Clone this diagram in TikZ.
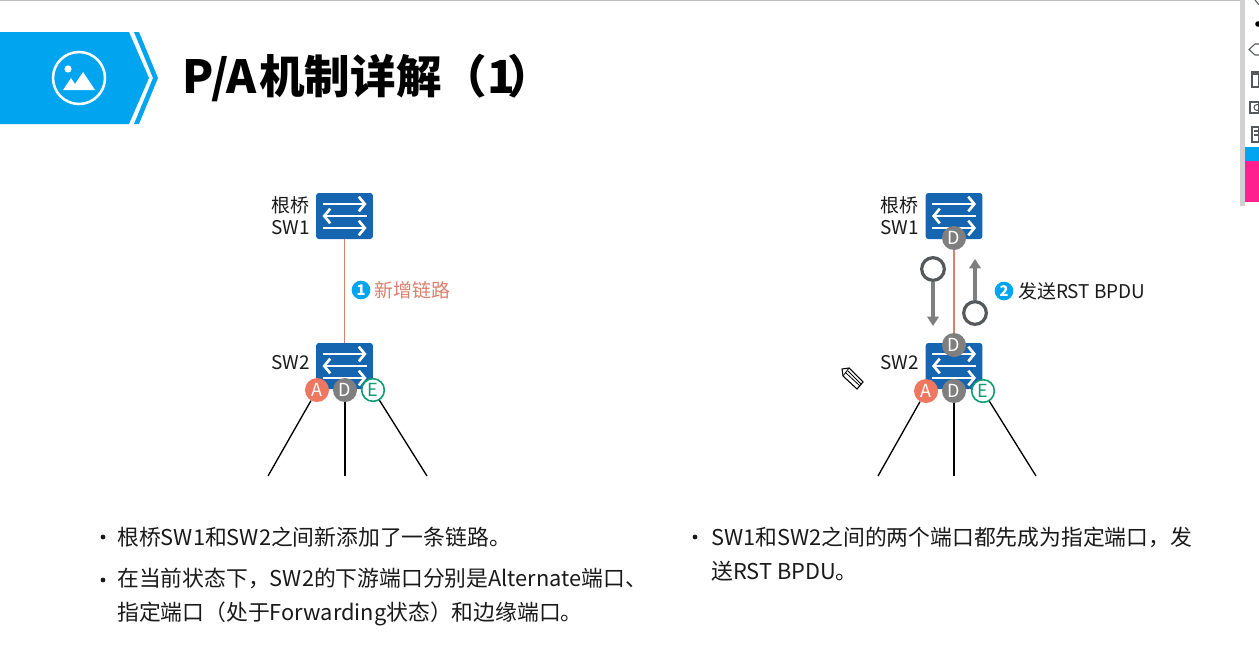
\documentclass[tikz,border=0pt]{standalone}
\usepackage{fontspec}
\setmainfont{Noto Sans CJK SC}
\usetikzlibrary{arrows.meta}
\definecolor{hwblue}{HTML}{00A4EF}
\definecolor{swblue}{HTML}{1565B0}
\definecolor{linkred}{HTML}{D9806F}
\definecolor{portred}{HTML}{F0775F}
\definecolor{portgrey}{HTML}{7F7F7F}
\definecolor{portgreen}{HTML}{0E9C70}
\definecolor{msgdark}{HTML}{55595C}
\definecolor{txt}{HTML}{1A1A1A}
\definecolor{barpink}{HTML}{FF2090}
\tikzset{
  switchbox/.style={fill=swblue,rounded corners=2pt,minimum width=42.5pt,minimum height=34.5pt,inner sep=0pt},
  swarrow/.style={white,line width=2pt,-{Straight Barb[length=4.5pt,width=11pt,line width=2pt]}},
  port/.style={circle,minimum size=18pt,inner sep=0pt,font=\fontsize{13.5}{13.5}\selectfont,text=white},
  porta/.style={port,fill=portred},
  portd/.style={port,fill=portgrey},
  porte/.style={port,fill=white,draw=portgreen,line width=1.2pt,text=portgreen,minimum size=17pt},
  badge/.style={circle,fill=hwblue,text=white,minimum size=14pt,inner sep=0pt,font=\fontsize{11}{11}\selectfont\bfseries},
  swlabel/.style={font=\fontsize{14.2}{16.5}\selectfont,text=txt,align=right,inner sep=0pt},
  body/.style={font=\fontsize{16.35}{25.5}\selectfont,text=txt,align=left,inner sep=0pt},
  bullet/.style={circle,fill=txt,minimum size=3.6pt,inner sep=0pt},
  link/.style={linkred,line width=1pt},
  downlink/.style={black,line width=1pt},
  msgring/.style={circle,draw=msgdark,fill=white,line width=2.4pt,minimum size=17pt,inner sep=0pt},
  msgarrow/.style={portgrey,line width=2.6pt,-{Triangle[length=7pt,width=8.5pt]}},
  sideicon/.style={msgdark,line width=0.8pt}
}
\newcommand{\swarrows}[1]{
\draw[swarrow] ([xshift=-16.5pt,yshift=9pt]#1.center) -- ([xshift=16.5pt,yshift=9pt]#1.center);
\draw[swarrow] ([xshift=16.5pt,yshift=0pt]#1.center) -- ([xshift=-16.5pt,yshift=0pt]#1.center);
\draw[swarrow] ([xshift=-16.5pt,yshift=-9pt]#1.center) -- ([xshift=16.5pt,yshift=-9pt]#1.center);
}
\begin{document}
\begin{tikzpicture}[x=0.75pt,y=-0.75pt]
\useasboundingbox (0,0) rectangle (1259,671);
\fill[white] (0,0) rectangle (1259,671);
\draw[gray!50,line width=0.8pt] (0,0.5) -- (1245,0.5);

\fill[hwblue] (0,32) -- (129,32) -- (149,78) -- (129,124) -- (0,124) -- cycle;
\fill[hwblue] (134,32) -- (139,32) -- (158,78) -- (139,124) -- (134,124) -- (153,78) -- cycle;
\draw[white,line width=1.9pt] (79,78) circle (26);
\fill[white] (68,69) circle (3.6);
\fill[white] (63,90) -- (71,78) -- (75,84) -- (83,72) -- (95,90) -- cycle;
\node[anchor=west,inner sep=0pt,font=\fontsize{34.2}{36}\selectfont\bfseries,text=black] (title) at (182,78) {P/A\hspace{2pt}机制详解（1\hspace{-6pt}）};

\node[switchbox] (sw1) at (344.5,216) {};
\node[switchbox] (sw2) at (344.5,366) {};
\swarrows{sw1}
\swarrows{sw2}
\node[swlabel,anchor=east] (lbl1) at (310,216) {根桥\\SW1};
\node[swlabel,anchor=east] (lbl2) at (310,363) {SW2};
\draw[link] (sw1) -- (sw2);
\node[porta] (pa) at (317,390) {A};
\node[portd] (pd) at (345,390) {D};
\node[porte] (pe) at (373,390) {E};
\coordinate (ea) at (268,476);
\coordinate (ed) at (345,476);
\coordinate (ee) at (427,476);
\draw[downlink] (pa) -- (ea);
\draw[downlink] (pd) -- (ed);
\draw[downlink] (pe) -- (ee);
\node[badge] (n1) at (361,290) {1};
\node[anchor=west,inner sep=0pt,font=\fontsize{14.2}{16}\selectfont,text=linkred] (t1) at (374,290) {新增链路};

\node[switchbox] (sw3) at (954,216) {};
\node[switchbox] (sw4) at (954,366) {};
\swarrows{sw3}
\swarrows{sw4}
\node[swlabel,anchor=east] (lbl3) at (919,216) {根桥\\SW1};
\node[swlabel,anchor=east] (lbl4) at (919,363) {SW2};
\node[portd] (pd1) at (954,238) {D};
\node[portd] (pd2) at (954,345) {D};
\draw[link] (pd1) -- (pd2);
\node[porta] (pa2) at (926,391) {A};
\node[portd] (pd3) at (954,391) {D};
\node[porte] (pe2) at (983,391) {E};
\coordinate (ea2) at (878,476);
\coordinate (ed2) at (954,476);
\coordinate (ee2) at (1036,476);
\draw[downlink] (pa2) -- (ea2);
\draw[downlink] (pd3) -- (ed2);
\draw[downlink] (pe2) -- (ee2);
\node[msgring] (m1) at (933,269) {};
\node[msgring] (m2) at (975,313) {};
\coordinate (m1e) at (933,326);
\coordinate (m2e) at (975,259);
\draw[msgarrow] (m1) -- (m1e);
\draw[msgarrow] (m2) -- (m2e);
\node[badge] (n2) at (1004,291) {2};
\node[anchor=west,inner sep=0pt,font=\fontsize{14.2}{16}\selectfont,text=txt] (t2) at (1018,291) {发送RST BPDU};

\draw[black,line width=0.8pt,fill=white] (842,369) -- (849,368) -- (863,382) -- (857,389) -- (843,376) -- cycle;
\draw[black,line width=0.6pt] (843,376) -- (849,368) (846,373) -- (860,386) (848,371) -- (861,384);

\node[bullet] (b1) at (103,537) {};
\node[bullet] (b2) at (103,580) {};
\node[bullet] (b3) at (695,537) {};
\node[body,anchor=west] (s1) at (117,537) {根桥SW1和SW2之间新添加了一条链路。};
\node[body,anchor=west] (s2) at (117,597) {在当前状态下，SW2的下游端口分别是Alternate端口、\\指定端口（处于Forwarding状态）和边缘端口。};
\node[body,anchor=west] (s3) at (711,554) {SW1和SW2之间的两个端口都先成为指定端口，发\\送RST BPDU。};

\fill[black!18] (1240,0) rectangle (1245,206);
\fill[white] (1245,0) rectangle (1259,203);
\fill[hwblue] (1245,147) rectangle (1259,161);
\fill[barpink] (1245,161) rectangle (1259,202);
\draw[sideicon] (1255,0) -- (1259,5);
\fill[black] (1258,24) circle (2.8);
\draw[sideicon] (1259,44) -- (1255,44) -- (1249,49.5) -- (1255,55) -- (1259,55);
\draw[sideicon] (1252,74) rectangle (1259,87) (1251,72) -- (1259,72);
\draw[sideicon] (1250,102) rectangle (1259,113);
\draw[sideicon] (1257,107.5) circle (3);
\draw[sideicon] (1252,127) rectangle (1259,142) (1254,131) -- (1259,131) (1254,135) -- (1259,135);
\end{tikzpicture}
\end{document}
